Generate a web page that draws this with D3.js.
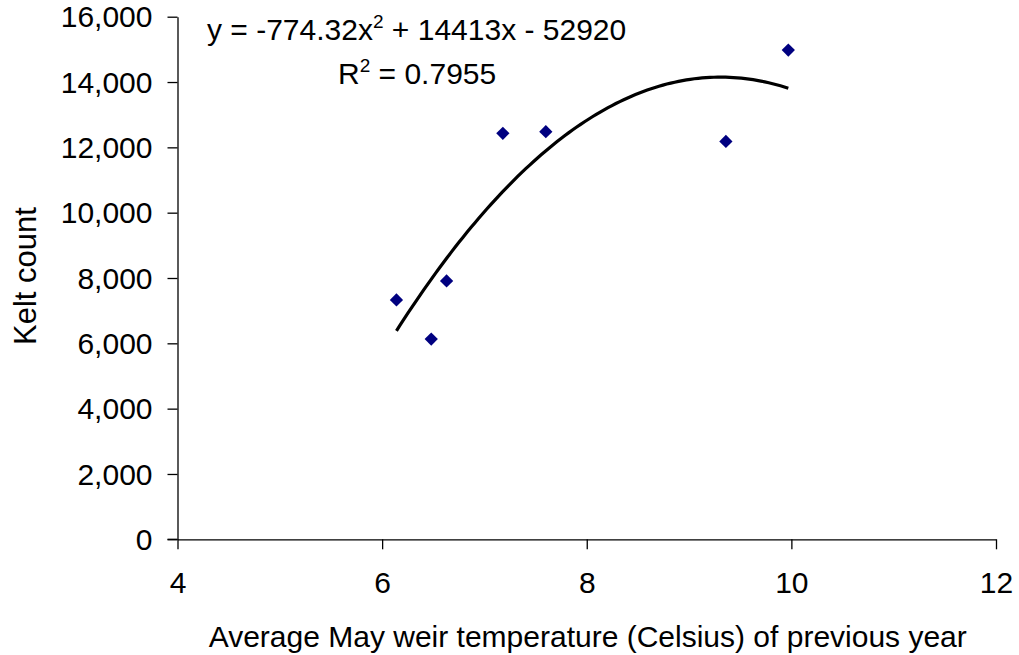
<!DOCTYPE html>
<html>
<head>
<meta charset="utf-8">
<script src="https://cdn.jsdelivr.net/npm/d3@7"></script>
<style>
  html, body { margin: 0; padding: 0; background: #fff; }
  svg { display: block; }
  text { font-family: "Liberation Sans", Arial, sans-serif; fill: #000; }
</style>
</head>
<body>
<svg id="chart" width="1019" height="655"></svg>
<script>
// ---- data ----
const temperature = [6.14, 6.48, 6.63, 7.18, 7.60, 9.36, 9.97];
const keltCount   = [7330, 6130, 7910, 12430, 12480, 12180, 14980];
const trendCoeffs = [-774.32, 14413, -52920]; // a, b, c  (y = a x^2 + b x + c)
const xTicks = [4, 6, 8, 10, 12];
const yTicks = [0, 2000, 4000, 6000, 8000, 10000, 12000, 14000, 16000];
const equationLabel = "y = -774.32x";
const equationRest = " + 14413x - 52920";
const r2Label = "0.7955";
const xTitle = "Average May weir temperature (Celsius) of previous year";
const yTitle = "Kelt count";

// ---- layout ----
const svg = d3.select("#chart");
const plotLeft = 177.5, plotRight = 996, plotTop = 16.7, plotBottom = 539.3;

const x = d3.scaleLinear().domain([4, 12]).range([plotLeft, plotRight]);
const y = d3.scaleLinear().domain([0, 16000]).range([plotBottom, plotTop]);
const fmt = d3.format(",");

// y axis
const yAxis = svg.append("g")
  .attr("transform", `translate(${plotLeft},0)`)
  .call(d3.axisLeft(y).tickValues(yTicks).tickFormat(fmt).tickSize(10).tickSizeOuter(0).tickPadding(15));
yAxis.selectAll("text").style("font-size", "30px").attr("dy", "0.34em");
yAxis.selectAll("line, path").attr("stroke", "#000").attr("stroke-width", 1.3);

// x axis
const xAxis = svg.append("g")
  .attr("transform", `translate(0,${plotBottom})`)
  .call(d3.axisBottom(x).tickValues(xTicks).tickFormat(d3.format("d")).tickSize(10).tickSizeOuter(0).tickPadding(22));
xAxis.selectAll("text").style("font-size", "30px");
xAxis.selectAll("line, path").attr("stroke", "#000").attr("stroke-width", 1.3);
// extend x axis line to the left to meet the 0 tick
svg.append("line")
  .attr("x1", plotLeft - 10).attr("x2", plotLeft)
  .attr("y1", plotBottom).attr("y2", plotBottom)
  .attr("stroke", "#000").attr("stroke-width", 1.3);

// trendline
const [a, b, c] = trendCoeffs;
const xmin = d3.min(temperature), xmax = d3.max(temperature);
const trendPts = d3.range(0, 101).map(i => {
  const t = xmin + (xmax - xmin) * i / 100;
  return [t, a * t * t + b * t + c];
});
svg.append("path")
  .datum(trendPts)
  .attr("fill", "none")
  .attr("stroke", "#000")
  .attr("stroke-width", 3.2)
  .attr("d", d3.line().x(d => x(d[0])).y(d => y(d[1])));

// markers
const diamond = d3.symbol().type(d3.symbolSquare).size(88);
svg.append("g").selectAll("path")
  .data(temperature.map((t, i) => [t, keltCount[i]]))
  .join("path")
  .attr("d", diamond)
  .attr("transform", d => `translate(${x(d[0])},${y(d[1])}) rotate(45)`)
  .attr("fill", "#000080");

// equation
const eq = svg.append("text").attr("x", 207).attr("y", 40).style("font-size", "30px");
eq.append("tspan").text(equationLabel);
eq.append("tspan").attr("dy", -12).style("font-size", "19px").text("2");
eq.append("tspan").attr("dy", 12).text(equationRest);

const r2 = svg.append("text").attr("x", 338).attr("y", 84).style("font-size", "30px");
r2.append("tspan").text("R");
r2.append("tspan").attr("dy", -12).style("font-size", "19px").text("2");
r2.append("tspan").attr("dy", 12).text(" = " + r2Label);

// axis titles
svg.append("text")
  .attr("x", (plotLeft + plotRight) / 2 + 1).attr("y", 647)
  .attr("text-anchor", "middle")
  .style("font-size", "30px")
  .text(xTitle);

svg.append("text")
  .attr("transform", "translate(36,276) rotate(-90)")
  .attr("text-anchor", "middle")
  .style("font-size", "31px")
  .text(yTitle);
</script>
</body>
</html>
